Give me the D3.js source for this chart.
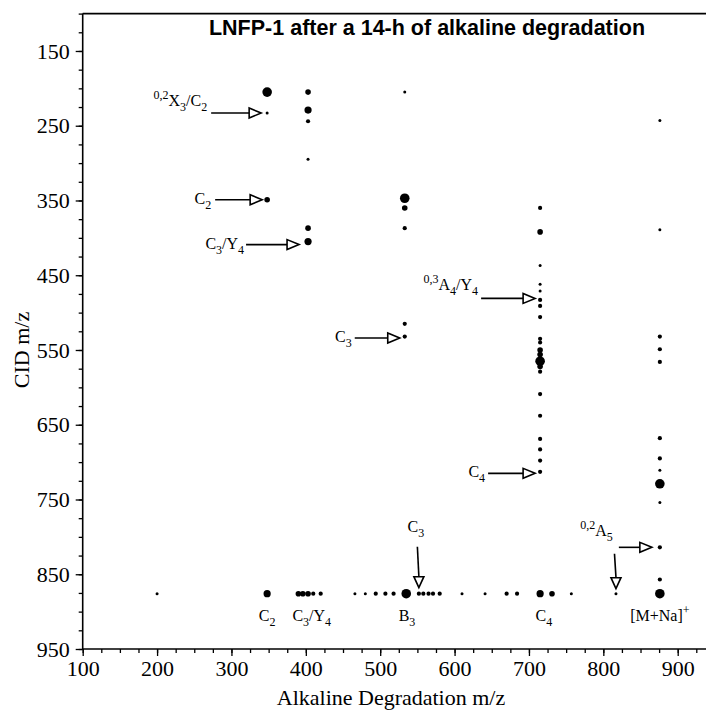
<!DOCTYPE html>
<html>
<head>
<meta charset="utf-8">
<script src="https://cdn.jsdelivr.net/npm/d3@7"></script>
<style>
  html, body { margin: 0; padding: 0; background: #fff; }
  svg { display: block; }
</style>
</head>
<body>
<svg id="chart" width="706" height="713"></svg>
<script>
// ---------------- DATA ----------------
const titleText = "LNFP-1 after a 14-h of alkaline degradation";
const xAxisTitle = "Alkaline Degradation m/z";
const yAxisTitle = "CID m/z";
const xTickValues = [100, 200, 300, 400, 500, 600, 700, 800, 900];
const yTickValues = [150, 250, 350, 450, 550, 650, 750, 850, 950];

// points: alkaline degradation m/z (x), CID m/z (y), relative intensity level (1 weak .. 5 strong)
const pointX = [
  348, 348, 348,
  403, 403, 403, 403, 403, 403,
  533, 533, 533, 533, 533, 533,
  715, 715, 715, 715, 715, 715, 715, 715, 715, 715, 715, 715, 715, 715, 715, 715, 715, 715, 715, 715, 715,
  876, 876, 876, 876, 876, 876, 876, 876, 876, 876, 876, 876,
  200, 348, 390, 396, 403, 410, 420, 466, 480, 494, 507, 518, 535, 552, 558, 565, 571, 580, 610, 641, 670, 684, 715, 731, 757, 817, 876
];
const pointY = [
  205, 233, 349,
  205, 229, 244, 295, 387, 405,
  205, 347, 360, 387, 515, 532,
  360, 392, 437, 462, 471, 483, 491, 506, 535, 540, 550, 556, 565, 572, 579, 609, 638, 669, 683, 698, 713,
  243, 389, 532, 549, 566, 668, 695, 711, 729, 754, 814, 857,
  876, 876, 876, 876, 876, 876, 876, 876, 876, 876, 876, 876, 876, 876, 876, 876, 876, 876, 876, 876, 876, 876, 876, 876, 876, 876, 876
];
const pointLevel = [
  5, 1, 3,
  3, 4, 2, 1, 3, 4,
  1, 5, 3, 2, 2, 2,
  2, 3, 1, 1, 1, 2, 2, 2, 2, 2, 3, 3, 5, 3, 2, 2, 2, 2, 2, 2, 2,
  1, 1, 2, 2, 2, 2, 2, 1, 5, 1, 2, 2,
  1, 4, 3, 3, 3, 2, 2, 1, 1, 2, 2, 2, 5, 2, 2, 2, 2, 2, 1, 1, 2, 2, 4, 3, 1, 1, 5
];

// fragment labels: [kind, text] parts (n = normal, sub = subscript, sup = superscript)
const arrowLabels = [
  { parts: [["sup","0,2"],["n","X"],["sub","3"],["n","/C"],["sub","2"]], x: 348, y: 233, dir: "h" },
  { parts: [["n","C"],["sub","2"]], x: 348, y: 349, dir: "h" },
  { parts: [["n","C"],["sub","3"],["n","/Y"],["sub","4"]], x: 403, y: 405, dir: "h" },
  { parts: [["sup","0,3"],["n","A"],["sub","4"],["n","/Y"],["sub","4"]], x: 715, y: 481, dir: "h" },
  { parts: [["n","C"],["sub","3"]], x: 533, y: 532, dir: "h" },
  { parts: [["n","C"],["sub","4"]], x: 715, y: 713, dir: "h" },
  { parts: [["sup","0,2"],["n","A"],["sub","5"]], x: 876, y: 814, dir: "h" },
  { parts: [["n","C"],["sub","3"]], x: 552, y: 876, dir: "v" },
  { parts: [], x: 817, y: 876, dir: "v" }
];
const rowLabels = [
  { parts: [["n","C"],["sub","2"]], x: 348 },
  { parts: [["n","C"],["sub","3"],["n","/Y"],["sub","4"]], x: 408 },
  { parts: [["n","B"],["sub","3"]], x: 536 },
  { parts: [["n","C"],["sub","4"]], x: 720 },
  { parts: [["n","[M+Na]"],["sup","+"]], x: 876 }
];
const rowLabelY = 876;

// ---------------- STYLE / LAYOUT ----------------
const serif = "'Liberation Serif', 'Times New Roman', 'DejaVu Serif', serif";
const sans = "'Liberation Sans', Arial, Helvetica, sans-serif";
const radius = { 1: 1.5, 2: 2.1, 3: 2.8, 4: 3.6, 5: 4.8 };
// per-arrow layout (pixels): arrow length, gap to the dot, vertical shift, text baseline offset
const arrowLayout = [
  { len: 50, gap: 6, dy: 0, tb: -7, tgap: 4 },
  { len: 47, gap: 5, dy: 0, tb: 4, tgap: 4 },
  { len: 53, gap: 9, dy: 3, tb: 4, tgap: 2 },
  { len: 54, gap: 5, dy: 0, tb: -8, tgap: 3 },
  { len: 45, gap: 5, dy: 1.5, tb: 4, tgap: 3 },
  { len: 47, gap: 5, dy: 1.5, tb: 4, tgap: 3 },
  { len: 33, gap: 8, dy: 0, tb: -11, tgap: 6 },
  { len: 41, gap: 6, dy: 0, tb: -15, tgap: 0 },
  { len: 35, gap: 5, dy: 0, tb: 0, tgap: 0 }
];

const svg = d3.select("#chart");
const x = d3.scaleLinear().domain([100, 900]).range([82.7, 677.7]);
const y = d3.scaleLinear().domain([100, 950]).range([13.6, 649]);
const xEnd = x.invert(706);

// frame lines
svg.append("line").attr("x1", x(100)).attr("x2", x(xEnd)).attr("y1", y(950)).attr("y2", y(950))
  .attr("stroke", "#000").attr("stroke-width", 1.6);
svg.append("line").attr("x1", x(100)).attr("x2", x(xEnd)).attr("y1", y(100)).attr("y2", y(100))
  .attr("stroke", "#000").attr("stroke-width", 1.6);
svg.append("line").attr("x1", x(100)).attr("x2", x(100)).attr("y1", y(100)).attr("y2", y(950))
  .attr("stroke", "#000").attr("stroke-width", 1.6);

// minor ticks
const xMinor = d3.range(100, xEnd, 25);
const yMinor = d3.range(100, 951, 25);
const xMinorAxis = svg.append("g").attr("transform", `translate(0,${y(950)})`)
  .call(d3.axisBottom(x).tickValues(xMinor).tickSize(4).tickFormat(""));
const yMinorAxis = svg.append("g").attr("transform", `translate(${x(100)},0)`)
  .call(d3.axisLeft(y).tickValues(yMinor).tickSize(4).tickFormat(""));
// major ticks
const xAxis = svg.append("g").attr("transform", `translate(0,${y(950)})`)
  .call(d3.axisBottom(x).tickValues(xTickValues).tickSize(7).tickPadding(4).tickFormat(d3.format("d")));
const yAxis = svg.append("g").attr("transform", `translate(${x(100)},0)`)
  .call(d3.axisLeft(y).tickValues(yTickValues).tickSize(7).tickPadding(6).tickFormat(d3.format("d")));
[xMinorAxis, yMinorAxis, xAxis, yAxis].forEach(g => {
  g.select(".domain").remove();
  g.selectAll(".tick line").attr("stroke", "#000").attr("stroke-width", 1.3);
  g.selectAll("text").attr("font-family", serif).attr("font-size", 22).attr("fill", "#000");
});

// titles
svg.append("text").attr("x", 427).attr("y", 35).attr("text-anchor", "middle")
  .attr("font-family", sans).attr("font-weight", "bold").attr("font-size", 21.5).text(titleText);
svg.append("text").attr("x", 391).attr("y", 705).attr("text-anchor", "middle")
  .attr("font-family", serif).attr("font-size", 22).text(xAxisTitle);
svg.append("text").attr("transform", `translate(29,${y(550)}) rotate(-90)`).attr("text-anchor", "middle")
  .attr("font-family", serif).attr("font-size", 22).text(yAxisTitle);

// points
const pts = pointX.map((v, i) => ({ x: v, y: pointY[i], l: pointLevel[i] }));
svg.append("g").selectAll("circle").data(pts).join("circle")
  .attr("cx", d => x(d.x)).attr("cy", d => y(d.y)).attr("r", d => radius[d.l]).attr("fill", "#000");

// rich label helper
function richText(sel, parts, size) {
  let shift = 0;
  parts.forEach(([kind, str]) => {
    const t = sel.append("tspan").text(str);
    let target = 0, fs = size;
    if (kind === "sub") { target = 5; fs = size * 0.75; }
    if (kind === "sup") { target = -7; fs = size * 0.75; }
    t.attr("dy", target - shift).attr("font-size", fs);
    shift = target;
  });
}

// arrows
const ag = svg.append("g");
arrowLabels.forEach((a, i) => {
  const L = arrowLayout[i];
  if (a.dir === "h") {
    const ay = y(a.y) + L.dy;
    const tip = x(a.x) - L.gap;
    const start = tip - L.len;
    const headLen = 12, half = 5;
    ag.append("line").attr("x1", start).attr("x2", tip - headLen).attr("y1", ay).attr("y2", ay)
      .attr("stroke", "#000").attr("stroke-width", 1.6);
    ag.append("path").attr("d", `M${tip},${ay} L${tip - headLen},${ay - half} L${tip - headLen},${ay + half} Z`)
      .attr("fill", "#fff").attr("stroke", "#000").attr("stroke-width", 1.6);
    const t = ag.append("text").attr("x", start - L.tgap).attr("y", ay + L.tb)
      .attr("text-anchor", "end").attr("font-family", serif).attr("font-size", 16);
    richText(t, a.parts, 16);
  } else {
    const ax = x(a.x);
    const tip = y(a.y) - L.gap;
    const start = tip - L.len;
    const headLen = 11, half = 5;
    ag.append("line").attr("x1", ax - 1.5).attr("x2", ax).attr("y1", start).attr("y2", tip - headLen)
      .attr("stroke", "#000").attr("stroke-width", 1.6);
    ag.append("path").attr("d", `M${ax},${tip} L${ax - half},${tip - headLen} L${ax + half},${tip - headLen} Z`)
      .attr("fill", "#fff").attr("stroke", "#000").attr("stroke-width", 1.6);
    if (a.parts.length) {
      const t = ag.append("text").attr("x", ax - 3).attr("y", start + L.tb)
        .attr("text-anchor", "middle").attr("font-family", serif).attr("font-size", 16);
      richText(t, a.parts, 16);
    }
  }
});

// labels under the bottom row
rowLabels.forEach(r => {
  const t = svg.append("text").attr("x", x(r.x)).attr("y", y(rowLabelY) + 27)
    .attr("text-anchor", "middle").attr("font-family", serif).attr("font-size", 16);
  richText(t, r.parts, 16);
});
</script>
</body>
</html>
